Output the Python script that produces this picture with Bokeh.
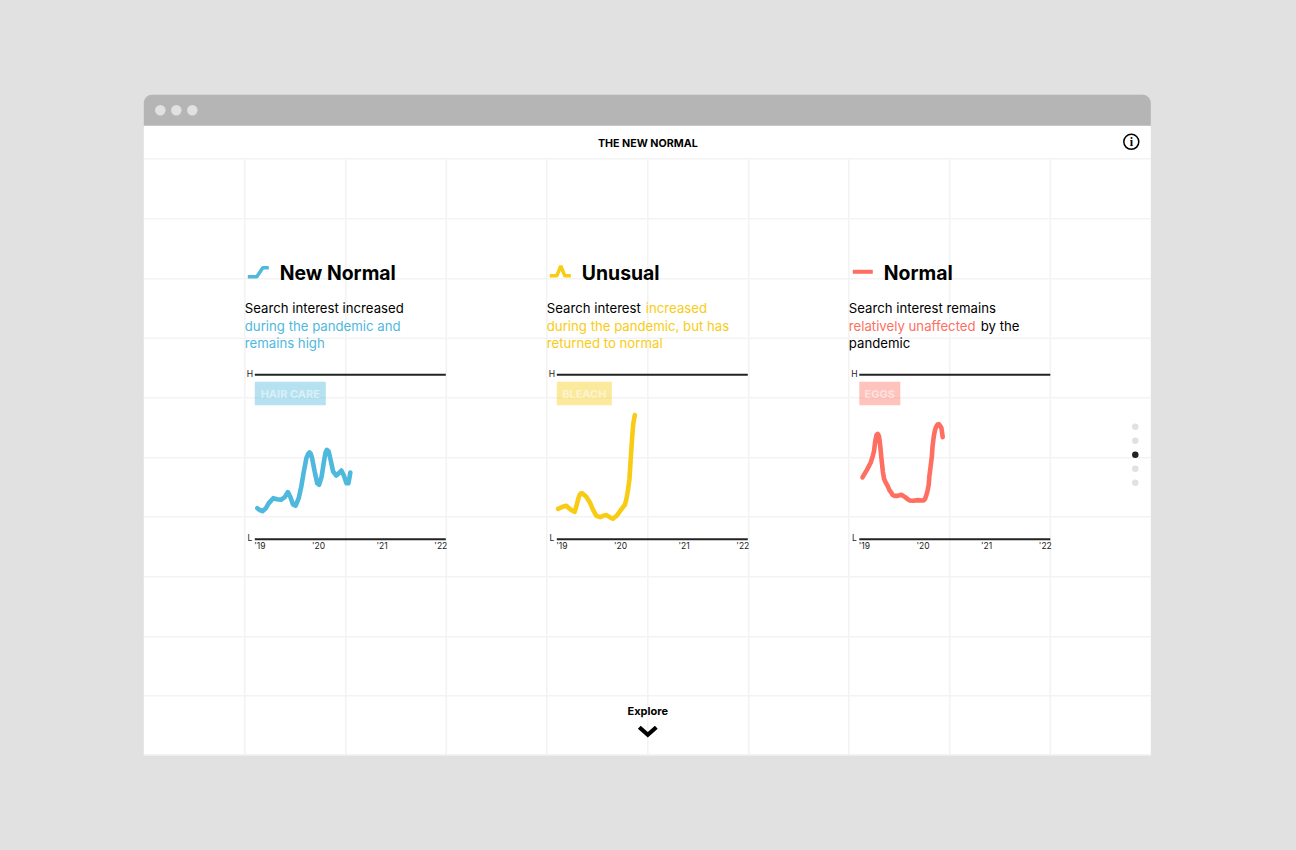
from bokeh.plotting import figure
from bokeh.models import Range1d, BoxAnnotation
from bokeh.core.properties import value
from bokeh.embed import file_html
from bokeh.resources import INLINE

# ---- data ----
tick_years = [2019, 2020, 2021, 2022]
tick_labels = ["'19", "'20", "'21", "'22"]

hair_t = [2019.04,2019.08,2019.12,2019.17,2019.22,2019.29,2019.35,2019.41,2019.47,2019.52,2019.56,2019.60,2019.64,2019.69,2019.73,2019.77,2019.81,2019.84,2019.86,2019.88,2019.90,2019.94,2019.98,2020.01,2020.05,2020.09,2020.11,2020.13,2020.16,2020.19,2020.23,2020.28,2020.32,2020.36,2020.40,2020.44,2020.47,2020.49,2020.50]
hair_v = [18.9,17.7,17.1,18.7,22.0,25.0,24.4,24.0,25.6,28.7,25.6,21.2,20.4,25.0,32.1,41.2,49.3,52.0,52.8,52.0,49.3,41.2,34.1,33.1,38.2,48.3,52.5,54.4,53.4,48.3,41.2,38.8,40.2,41.8,38.6,34.1,34.1,38.2,40.6]

bleach_t = [2019.02,2019.08,2019.15,2019.21,2019.25,2019.28,2019.30,2019.32,2019.34,2019.36,2019.38,2019.40,2019.42,2019.46,2019.52,2019.57,2019.62,2019.68,2019.73,2019.78,2019.84,2019.88,2019.94,2020.00,2020.07,2020.09,2020.115,2020.14,2020.16,2020.18,2020.20,2020.225]
bleach_v = [18.5,19.6,20.4,18.3,17.3,16.7,19.0,22.0,25.0,27.1,27.9,27.9,27.3,26.0,22.4,17.9,14.3,13.5,14.3,14.7,13.3,12.5,14.3,17.5,21.0,24.0,29.1,36.2,48.0,60.0,70.0,75.5]

eggs_t = [2019.05,2019.12,2019.18,2019.21,2019.23,2019.25,2019.27,2019.29,2019.31,2019.33,2019.35,2019.37,2019.39,2019.42,2019.45,2019.47,2019.50,2019.52,2019.55,2019.60,2019.66,2019.72,2019.76,2019.79,2019.85,2019.92,2019.98,2020.01,2020.03,2020.05,2020.07,2020.09,2020.10,2020.12,2020.14,2020.15,2020.17,2020.19,2020.21,2020.23,2020.25,2020.27,2020.29,2020.31]
eggs_v = [37.6,42.2,46.7,50.4,53.4,59.5,63.3,64.1,62.5,56.4,48.3,41.2,36.6,34.1,32.1,30.1,28.5,27.1,26.4,26.4,27.1,25.6,24.4,23.6,23.4,23.8,23.6,23.6,24.4,26.4,29.1,33.1,38.2,44.3,50.4,56.4,62.5,66.6,68.6,69.8,70.0,69.0,67.6,62.1]

BLUE, YELLOW, CORAL = "#4fb8dd", "#f8cc14", "#fe6f61"
FONT = "Inter"
PAGE_BG, GRID = "#e1e1e1", "#f3f3f3"

# ---- page-pixel figure ----
W, H = 1296, 850
SHIFT = 0.7
X0, X1, Y0, Y1 = SHIFT, W + SHIFT, H + SHIFT, SHIFT
p = figure(width=W, height=H, x_range=Range1d(X0, X1), y_range=Range1d(Y0, Y1),
           output_backend="svg", toolbar_location=None, min_border=0,
           background_fill_color=PAGE_BG, border_fill_color=PAGE_BG)
p.axis.visible = False
p.grid.visible = False
p.outline_line_color = None

# chart frame geometry: one scale for each small multiple
LEFTS = [255.0, 557.0, 859.5]
RIGHTS = [446.0, 748.0, 1050.5]
Y_H, Y_L = 375.0, 539.5
ppu = (Y_L - Y_H) / 100.0
p.extra_y_ranges["v"] = Range1d((Y_L - Y0) / ppu, (Y_L - Y1) / ppu)
for i, (l, r) in enumerate(zip(LEFTS, RIGHTS)):
    k = (r - l) / 3.0
    p.extra_x_ranges[f"t{i}"] = Range1d(2019 + (X0 - l) / k, 2019 + (X1 - l) / k)

# browser chrome
p.add_layout(BoxAnnotation(left=144, right=1151, top=95, bottom=127, fill_color="#b5b5b5", fill_alpha=1,
                           line_color=None, border_radius=(8, 8, 0, 0), level="underlay"))
p.quad(left=[144], right=[1151], top=[126], bottom=[755.5], fill_color="white", line_color=None)
p.scatter([160.5, 176.5, 192.5], [110.5] * 3, size=10.5, color=PAGE_BG, line_color=None)

# background grid
vx = [245, 346, 446.5, 547, 648, 749, 849, 950, 1050.5]
hy = [159, 219, 279, 338.5, 398, 458, 517, 577, 637, 696, 755]
p.segment(vx, [159] * len(vx), vx, [755] * len(vx), line_color=GRID, line_width=1.6)
p.segment([144] * len(hy), hy, [1151] * len(hy), hy, line_color=GRID, line_width=1.6)

def txt(x, y, s, size, color="#000000", bold=False, align="left", alpha=1.0, font=FONT):
    p.text([x], [y], text=[s], text_font=value(font), text_font_size=f"{size}px",
           text_font_style="bold" if bold else "normal", text_color=color, text_alpha=alpha,
           text_align=align, text_baseline="middle")

txt(648, 144, "THE NEW NORMAL", 10.7, bold=True, align="center")

# info icon
p.scatter([1131.5], [142], size=15, fill_color=None, line_color="black", line_width=1.5)
txt(1131.5, 142.5, "i", 12, bold=True, align="center", font="Liberation Serif")

# legend icons
p.line([248, 257, 263, 269], [277, 277, 268, 268], color=BLUE, line_width=3.5)
p.line([550, 557, 561, 565, 571], [276, 276, 266, 276, 276], color=YELLOW, line_width=3.5)
p.line([853, 873], [272, 272], color=CORAL, line_width=4)

# headings
txt(280, 273, "New Normal", 19.4, bold=True)
txt(582, 273, "Unusual", 19.4, bold=True)
txt(884, 273, "Normal", 19.4, bold=True)

# descriptions
S = 13.2
txt(245, 308.5, "Search interest increased", S)
txt(245, 326, "during the pandemic and", S, BLUE)
txt(245, 343, "remains high", S, BLUE)
txt(547, 308.5, "Search interest", S)
txt(646, 308.5, "increased", S, YELLOW)
txt(547, 326, "during the pandemic, but has", S, YELLOW)
txt(547, 343, "returned to normal", S, YELLOW)
txt(849, 308.5, "Search interest remains", S)
txt(849, 326, "relatively unaffected", S, CORAL)
txt(981, 326, "by the", S)
txt(849, 343, "pandemic", S)

# small multiples
series = [(hair_t, hair_v, BLUE, "HAIR CARE", 71), (bleach_t, bleach_v, YELLOW, "BLEACH", 55), (eggs_t, eggs_v, CORAL, "EGGS", 41)]
for i, (t, v, c, name, w) in enumerate(series):
    xn = f"t{i}"
    l = LEFTS[i]
    p.segment([2019, 2019], [100, 0], [2022, 2022], [100, 0], x_range_name=xn, y_range_name="v",
              line_color="#222222", line_width=2)
    txt(l - 5, 374.5, "H", 8.5, "#222222", align="center")
    txt(l - 5, 538.5, "L", 8.5, "#222222", align="center")
    p.quad(left=[l], right=[l + w], top=[382], bottom=[405.5], fill_color=c, fill_alpha=0.42, line_color=None)
    txt(l + w / 2, 394, name, 11, "#ffffff", bold=True, align="center", alpha=0.5)
    p.text(tick_years, [-4] * 4, text=tick_labels, x_range_name=xn, y_range_name="v",
           text_font=value(FONT), text_font_size="8.5px", text_color="#222222",
           text_align=value("center"), text_baseline="middle", x_offset=[5, 0, 0, -5])
    p.line(t, v, x_range_name=xn, y_range_name="v", line_color=c, line_width=4.6,
           line_join="round", line_cap="round")

# explore cue
txt(648, 711.5, "Explore", 11, bold=True, align="center")
p.line([639.5, 648, 656.5], [727.5, 735, 727.5], color="black", line_width=4.2, line_join="miter")

# page dots
dots = [427, 441, 455, 469, 483]
p.scatter([1135.5] * 5, dots, size=6.5, color=[PAGE_BG, PAGE_BG, "#222222", PAGE_BG, PAGE_BG], line_color=None)

html = file_html(p, INLINE)
html = html.replace("</head>", f"<style>html,body{{background:{PAGE_BG};margin:0;overflow:hidden}}</style></head>", 1)
open("out.html", "w").write(html)
